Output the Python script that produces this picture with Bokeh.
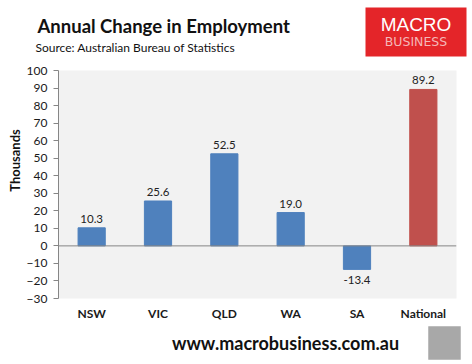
import math
from bokeh.plotting import figure
from bokeh.layouts import column, row
from bokeh.models import (ColumnDataSource, Label, Span, BoxAnnotation, FixedTicker, Range1d)
from bokeh.core.properties import value, field
from bokeh.embed import file_html
from bokeh.resources import INLINE

categories = ["NSW", "VIC", "QLD", "WA", "SA", "National"]
values = [10.3, 25.6, 52.5, 19.0, -13.4, 89.2]
bar_colors = ["#4F81BD", "#4F81BD", "#4F81BD", "#4F81BD", "#4F81BD", "#C0504D"]
y_ticks = list(range(-30, 101, 10))

FONT = "Lato"
W, H = 472, 364
HEADER_H, FOOTER_H, LEFT_W = 62, 41, 22
MAIN_H = H - HEADER_H - FOOTER_H


def blank(width, height):
    """A figure whose frame fills it, with pixel coordinates (y down)."""
    f = figure(width=width, height=height, output_backend="svg", toolbar_location=None,
               x_range=Range1d(0, width), y_range=Range1d(height, 0),
               x_axis_location=None, y_axis_location=None, min_border=0)
    f.grid.visible = False
    f.outline_line_color = None
    f.background_fill_color = "white"
    f.border_fill_color = "white"
    return f


def lab(f, text, x, y, size, font=FONT, **kw):
    f.add_layout(Label(x=x, y=y, text=text, text_font=font, text_font_size=size, **kw))


# ---------------- header ----------------
header = blank(W, HEADER_H)
lab(header, "Annual Change in Employment", 37, 25, "18.5px", text_font_style="bold",
    text_color="#111111", text_baseline="alphabetic")
lab(header, "Source: Australian Bureau of Statistics", 35, 47, "12px",
    text_color="#111111", text_baseline="alphabetic")
header.add_layout(BoxAnnotation(left=365, right=466, top=7, bottom=56,
                                fill_color="#E42529", fill_alpha=1.0, line_color=None))
lab(header, "MACRO", 415.5, 24, "19px", font="Liberation Sans", text_color="white",
    text_align="center", text_baseline="middle")
lab(header, "BUSINESS", 415.5, 41, "12.5px", font="DejaVu Sans", text_color="#F4B8B8",
    text_align="center", text_baseline="middle")

# ---------------- y-axis title strip ----------------
left = blank(LEFT_W, MAIN_H)
lab(left, "Thousands", 14, 103, "13px", text_font_style="bold", text_color="#111111",
    text_align="center", text_baseline="middle", angle=math.pi / 2)

# ---------------- main chart ----------------
xs = list(range(len(categories)))
src = ColumnDataSource(dict(
    x=xs,
    top=values,
    color=bar_colors,
    label=[f"{v:.1f}" for v in values],
    baseline=["bottom" if v >= 0 else "top" for v in values],
    yoff=[-5 if v >= 0 else 7 for v in values],
))

p = figure(width=W - LEFT_W, height=MAIN_H, output_backend="svg", toolbar_location=None,
           x_range=Range1d(-0.5, len(categories) - 0.5), y_range=Range1d(-30, 100),
           min_border_left=58 - LEFT_W, min_border_right=16, min_border_top=8,
           min_border_bottom=MAIN_H - 8 - 229)
p.background_fill_color = "#F2F2F2"
p.border_fill_color = "white"
p.outline_line_color = None
p.xgrid.grid_line_color = None
p.ygrid.grid_line_color = None

p.vbar(x="x", top="top", bottom=0, width=0.41, color="color", source=src)
p.add_layout(Span(location=0, dimension="width", line_color="#868686", line_width=1))

p.text(x="x", y="top", text="label", source=src, text_align="center",
       text_baseline=field("baseline"), y_offset="yoff", text_font_size="11.5px",
       text_color="#222222", text_font=value(FONT))

ya = p.yaxis[0]
ya.ticker = FixedTicker(ticks=y_ticks)
ya.axis_line_color = "#868686"
ya.major_tick_line_color = "#868686"
ya.major_tick_out = 5
ya.major_tick_in = 0
ya.minor_tick_line_color = None
ya.minor_tick_out = 0
ya.minor_tick_in = 0
ya.major_label_text_font = FONT
ya.major_label_text_font_size = "12px"
ya.major_label_text_color = "#1a1a1a"
ya.major_label_standoff = 6

xa = p.xaxis[0]
xa.ticker = FixedTicker(ticks=xs)
xa.major_label_overrides = {i: c for i, c in enumerate(categories)}
xa.axis_line_color = None
xa.major_tick_line_color = None
xa.major_tick_out = 0
xa.major_tick_in = 0
xa.minor_tick_line_color = None
xa.minor_tick_out = 0
xa.minor_tick_in = 0
xa.major_label_text_font = FONT
xa.major_label_text_font_style = "bold"
xa.major_label_text_font_size = "12px"
xa.major_label_text_color = "#1a1a1a"
xa.major_label_standoff = 7

# ---------------- footer ----------------
footer = blank(W, FOOTER_H)
lab(footer, "www.macrobusiness.com.au", 285, 19, "18px", text_font_style="bold",
    text_color="#111111", text_align="center", text_baseline="middle")
footer.add_layout(BoxAnnotation(left=428, right=460, top=3, bottom=36,
                                fill_color="#A8A8A8", fill_alpha=1.0, line_color="#8a8a8a"))

layout = column(header, row(left, p), footer)
open("out.html", "w").write(file_html(layout, INLINE))
